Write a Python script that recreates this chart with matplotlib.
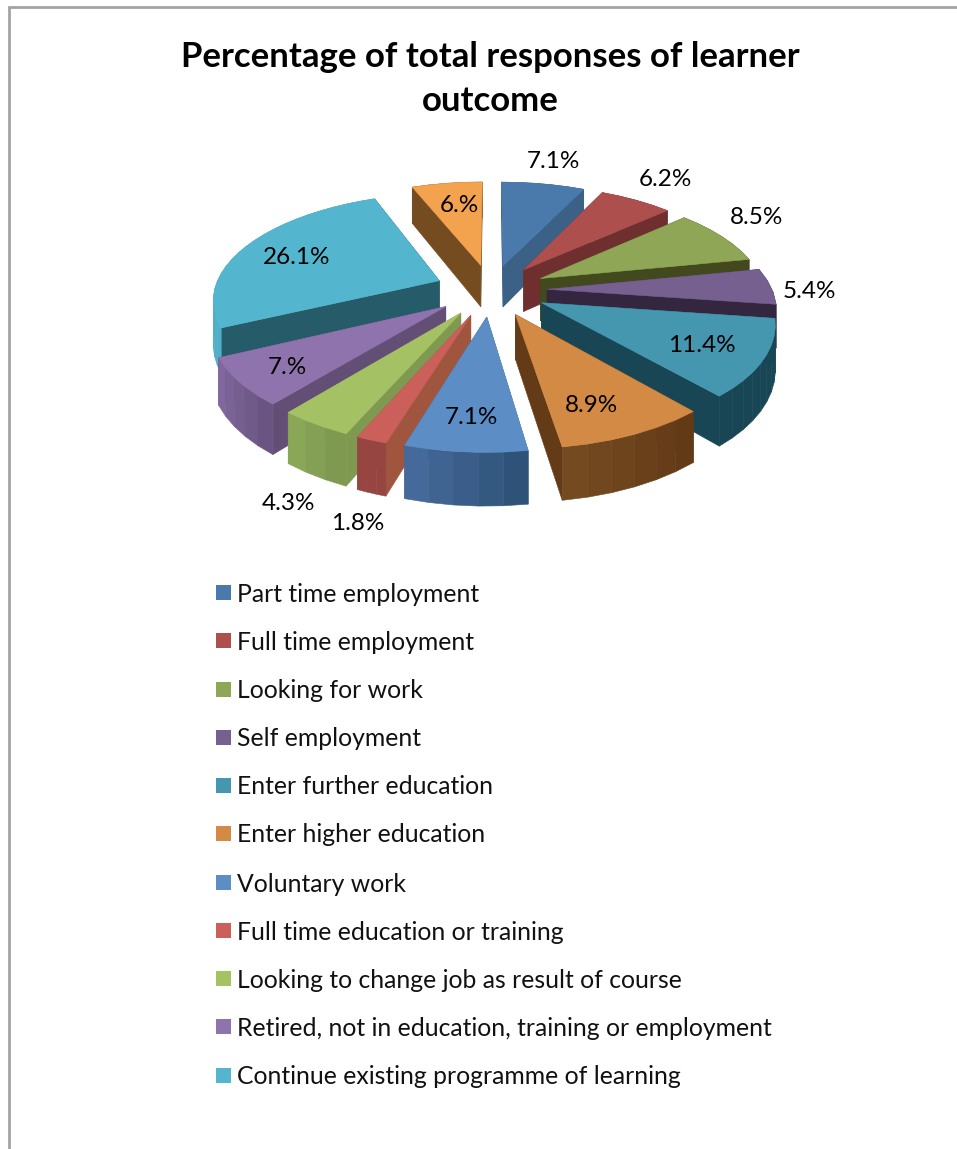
# -*- coding: utf-8 -*-
import numpy as np
import matplotlib
matplotlib.use('Agg')
import matplotlib.pyplot as plt
from matplotlib.colors import to_rgb

plt.rcParams['font.family'] = ['Lato', 'DejaVu Sans']

title = 'Percentage of total responses of learner\noutcome'
categories = ['Part time employment', 'Full time employment', 'Looking for work',
              'Self employment', 'Enter further education', 'Enter higher education',
              'Voluntary work', 'Full time education or training',
              'Looking to change job as result of course',
              'Retired, not in education, training or employment',
              'Continue existing programme of learning']
values = [7.1, 6.2, 8.5, 5.4, 11.4, 8.9, 7.1, 1.8, 4.3, 7.0, 26.1, 6.0]
value_labels = ['7.1%', '6.2%', '8.5%', '5.4%', '11.4%', '8.9%', '7.1%', '1.8%',
                '4.3%', '7.%', '26.1%', '6.%']

top_cols = ['#4a7aab', '#ad4f4c', '#8fa657', '#76608f', '#4597b0', '#d38a45',
            '#5c8ec5', '#cb605b', '#a4c264', '#8f73ad', '#53b6ce', '#f3a34e']
cut_cols = ['#3b6186', '#6e2f2e', '#41491d', '#352640', '#184655', '#643b17',
            '#3d6590', '#a0553f', '#7f9a50', '#634f76', '#265c69', '#754c1f']
wall_a = ['#3b6186', '#6e2f2e', '#41491d', '#352640', '#184655', '#623a16',
          '#2f5378', '#964540', '#7f9a50', '#6a5582', '#4fb0c8', '#754c1f']
wall_b = ['#3b6186', '#6e2f2e', '#41491d', '#352640', '#184655', '#744a20',
          '#44699a', '#964540', '#8aa657', '#80689e', '#4fb0c8', '#754c1f']

# label centres in pixels
label_pos = [(553, 162), (665, 180), (757, 218), (809, 292), (702, 346), (592, 406),
             (471, 418), (358, 524), (288, 504), (287, 368), (297, 257), (459, 206)]
legend_y = [594, 642, 691, 739, 787, 835, 884, 932, 980, 1028, 1077]

cx, cy = 491, 290
rx, ry = 225, 104
depth = 43
persp = 0.16
explode = 0.25


def proj(u, v, h=0):
    f = 1 / (1 - persp * v)
    return cx + rx * u * f, cy + ry * v * f + h * depth * f


def rim(a, mid):
    # a, mid in radians clockwise from 12 o'clock
    u = np.sin(a) + explode * np.sin(mid)
    v = -np.cos(a) - explode * np.cos(mid)
    return u, v


fig = plt.figure(figsize=(9.57, 11.49), dpi=100)
ax = fig.add_axes([0, 0, 1, 1])
ax.set_xlim(0, 957)
ax.set_ylim(1149, 0)
ax.axis('off')

# frame of the chart area
ax.plot([9, 9, 957], [1149, 7, 7], color='#a3a3a3', lw=2, solid_joinstyle='miter')

ax.text(490, 79, title, ha='center', va='center', fontsize=25, fontweight='bold',
        linespacing=1.45)

edges = np.cumsum([0] + values) / sum(values) * 2 * np.pi
mids = (edges[:-1] + edges[1:]) / 2
order = np.argsort(-np.cos(mids))  # back slices first

for i in order:
    a0, a1, m = edges[i], edges[i + 1], mids[i]
    au = explode * np.sin(m)
    av = -explode * np.cos(m)
    angs = np.linspace(a0, a1, max(int((a1 - a0) * 14), 4))
    us, vs = rim(angs, m)

    faces = []
    # two cut faces from the apex to the rim
    for k in (0, -1):
        xa, ya = proj(au, av)
        xb, yb = proj(us[k], vs[k])
        xc, yc = proj(us[k], vs[k], 1)
        xd, yd = proj(au, av, 1)
        faces.append(((av + vs[k]) / 2, [xa, xb, xc, xd], [ya, yb, yc, yd], cut_cols[i]))
    # outer wall, in narrow bands
    ca, cb = np.array(to_rgb(wall_a[i])), np.array(to_rgb(wall_b[i]))
    n = len(us) - 1
    for j in range(n):
        xa, ya = proj(us[j], vs[j])
        xb, yb = proj(us[j + 1], vs[j + 1])
        xc, yc = proj(us[j + 1], vs[j + 1], 1)
        xd, yd = proj(us[j], vs[j], 1)
        t = j / max(n - 1, 1)
        faces.append((vs[j] + 5, [xa, xb, xc, xd], [ya, yb, yc, yd], tuple(ca + (cb - ca) * t)))
    for _, fx, fy, col in sorted(faces, key=lambda f: f[0]):
        ax.fill(fx, fy, color=col, lw=0.4)

    tx, ty = proj(np.r_[au, us], np.r_[av, vs])
    ax.fill(tx, ty, color=top_cols[i], lw=0.4)

for lbl, (lx, ly) in zip(value_labels, label_pos):
    ax.text(lx, ly, lbl, ha='center', va='center', fontsize=17.5, color='black')

# legend
for name, col, ly in zip(categories, top_cols, legend_y):
    ax.fill([216, 231, 231, 216], [ly - 9, ly - 9, ly + 6, ly + 6], color=col, lw=0)
    ax.text(237, ly, name, ha='left', va='center', fontsize=17.8, color='#111111')

fig.savefig('out.png', dpi=100)
